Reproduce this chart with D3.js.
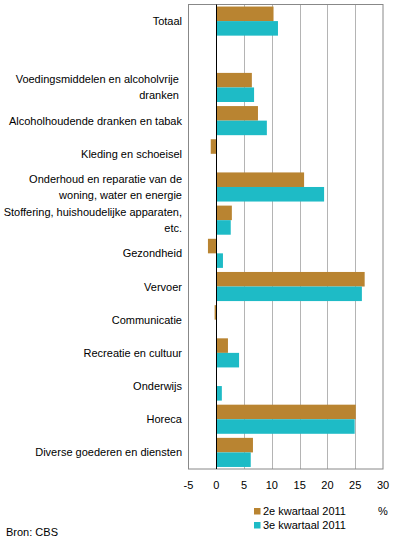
<!DOCTYPE html>
<html><head><meta charset="utf-8">
<script src="https://cdn.jsdelivr.net/npm/d3@7"></script>
<style>body{margin:0;background:#fff}svg{display:block}text{font-family:"Liberation Sans",Arial,sans-serif;font-size:11px;fill:#000}</style>
</head><body>
<script>
const categories = [
  ["Totaal"],
  [""],
  ["Voedingsmiddelen en alcoholvrije\u00a0", "dranken\u00a0"],
  ["Alcoholhoudende dranken en tabak"],
  ["Kleding en schoeisel"],
  ["Onderhoud en reparatie van de", "woning, water en energie"],
  ["Stoffering, huishoudelijke apparaten,", "etc."],
  ["Gezondheid"],
  ["Vervoer"],
  ["Communicatie"],
  ["Recreatie en cultuur"],
  ["Onderwijs"],
  ["Horeca"],
  ["Diverse goederen en diensten"]
];
const seriesNames = ["2e kwartaal 2011", "3e kwartaal 2011"];
const q2 = [10.3, null, 6.4, 7.5, -1.0, 15.8, 2.8, -1.5, 26.7, -0.3, 2.1, 0, 25.1, 6.6];
const q3 = [11.1, null, 6.8, 9.1, 0, 19.4, 2.6, 1.2, 26.2, 0, 4.1, 1.0, 24.9, 6.2];
const xTicks = [-5, 0, 5, 10, 15, 20, 25, 30];
const colors = ["#B98431", "#1EBBC6"];

const W = 396, H = 543;
const L = 188.5, R = 383, T = 4.5, B = 469;
const svg = d3.select("body").append("svg").attr("width", W).attr("height", H);
const x = d3.scaleLinear().domain([-5, 30]).range([L, R]);
const y = d3.scaleBand().domain(d3.range(categories.length)).range([T, B]);
const inner = d3.scaleBand().domain([0, 1]).range([0, y.bandwidth()]).paddingOuter(0.14);

// gridlines
svg.append("g").selectAll("line").data(xTicks.filter(t => t > -5 && t < 30 && t !== 0)).join("line")
  .attr("x1", d => Math.round(x(d)) + 0.5).attr("x2", d => Math.round(x(d)) + 0.5)
  .attr("y1", T).attr("y2", B).attr("stroke", "#b4b4b4").attr("stroke-width", 1);

// bars
const data = [q2, q3];
data.forEach((vals, si) => {
  svg.append("g").selectAll("rect").data(vals.map((v, i) => ({v, i})).filter(d => d.v !== null && d.v !== 0)).join("rect")
    .attr("x", d => x(Math.min(0, d.v)))
    .attr("width", d => Math.abs(x(d.v) - x(0)))
    .attr("y", d => y(d.i) + inner(si))
    .attr("height", inner.bandwidth())
    .attr("fill", colors[si]);
});

// frame
svg.append("rect").attr("x", L).attr("y", T).attr("width", R - L).attr("height", B - T)
  .attr("fill", "none").attr("stroke", "#888").attr("stroke-width", 1);
// zero line
svg.append("line").attr("x1", Math.round(x(0)) + 0.5).attr("x2", Math.round(x(0)) + 0.5)
  .attr("y1", T).attr("y2", B).attr("stroke", "#000").attr("stroke-width", 1);

// x axis labels
svg.append("g").selectAll("text").data(xTicks).join("text")
  .attr("x", d => x(d)).attr("y", 489).attr("text-anchor", "middle").text(d => d);

// category labels
const lab = svg.append("g");
categories.forEach((lines, i) => {
  const cy = y(i) + y.bandwidth() / 2;
  lines.forEach((t, j) => {
    const off = lines.length === 1 ? 0 : (j === 0 ? -8 : 8);
    lab.append("text").attr("x", 182).attr("y", cy + off + 4).attr("text-anchor", "end")
      .style("white-space", "pre").text(t);
  });
});

// legend
seriesNames.forEach((n, i) => {
  const ly = 508 + i * 14;
  svg.append("rect").attr("x", 254).attr("y", ly).attr("width", 6.5).attr("height", 6.5).attr("fill", colors[i]);
  svg.append("text").attr("x", 263).attr("y", ly + 7).text(n);
});
svg.append("text").attr("x", 383).attr("y", 515).attr("text-anchor", "middle").text("%");
svg.append("text").attr("x", 6).attr("y", 536).text("Bron: CBS");
</script>
</body></html>
